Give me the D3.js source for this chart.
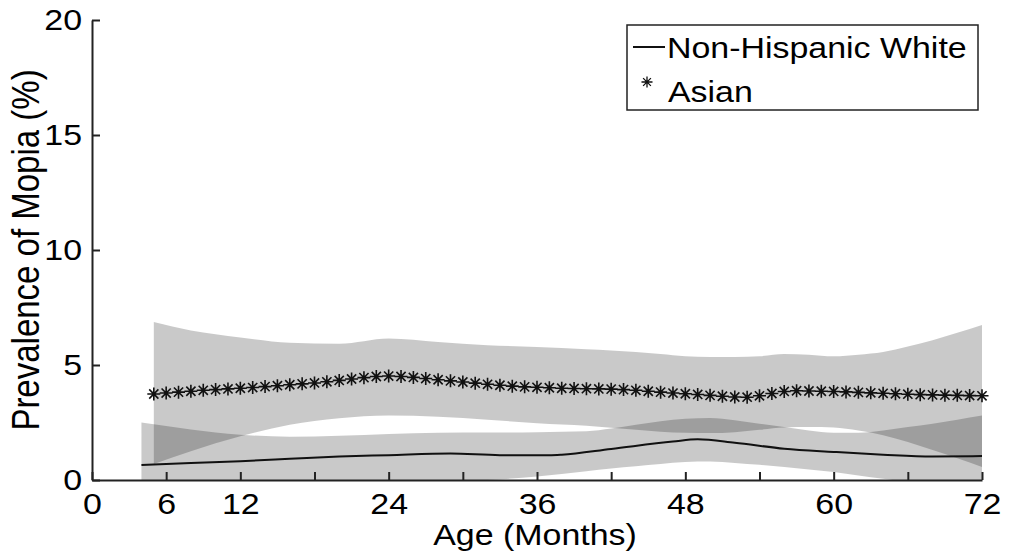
<!DOCTYPE html>
<html>
<head>
<meta charset="utf-8">
<script src="https://cdn.jsdelivr.net/npm/d3@7"></script>
<style>
  html, body { margin: 0; padding: 0; background: #fff; }
  svg text { font-family: "Liberation Sans", Arial, sans-serif; fill: #000; }
</style>
</head>
<body>
<div id="chart"></div>
<script>
//Datos
const xTicks = [0, 6, 12, 18, 24, 30, 36, 42, 48, 54, 60, 66, 72];
const xLabels = [0, 6, 12, 24, 36, 48, 60, 72];
const yTicks = [0, 5, 10, 15, 20];

//Asiáticos: un asterisco por mes
const asianAge = [5, 6, 7, 8, 9, 10, 11, 12, 13, 14, 15, 16, 17, 18, 19, 20, 21, 22, 23, 24,
    25, 26, 27, 28, 29, 30, 31, 32, 33, 34, 35, 36, 37, 38, 39, 40, 41, 42, 43, 44, 45, 46, 47, 48,
    49, 50, 51, 52, 53, 54, 55, 56, 57, 58, 59, 60, 61, 62, 63, 64, 65, 66, 67, 68, 69, 70, 71, 72];
const asianValue = [3.74, 3.78, 3.82, 3.86, 3.9, 3.93, 3.96, 3.99, 4.02, 4.06, 4.1, 4.14, 4.18, 4.22, 4.27, 4.33, 4.39, 4.45, 4.5, 4.52,
    4.5, 4.46, 4.41, 4.36, 4.31, 4.26, 4.21, 4.16, 4.12, 4.08, 4.05, 4.03, 4.01, 3.99, 3.98, 3.97, 3.96, 3.95, 3.93, 3.9, 3.86, 3.82, 3.78, 3.75,
    3.72, 3.68, 3.64, 3.61, 3.6, 3.66, 3.76, 3.85, 3.88, 3.87, 3.86, 3.85, 3.83, 3.81, 3.79, 3.77, 3.75, 3.73, 3.71, 3.7, 3.69, 3.68, 3.67, 3.66];

//Bandas de confianza
const bandAge = [8, 12, 16, 20, 24, 28, 32, 36, 40, 42, 44, 46, 48, 50, 52, 54, 56, 58, 60, 62, 64, 66, 68, 70, 72];
const asianUpper = [6.5, 6.2, 5.97, 5.92, 6.15, 6.0, 5.86, 5.78, 5.68, 5.63, 5.56, 5.48, 5.38, 5.35, 5.35, 5.38, 5.48, 5.45, 5.38, 5.45, 5.57, 5.8, 6.08, 6.4, 6.74];
const asianLower = [1.25, 1.9, 2.4, 2.68, 2.8, 2.75, 2.62, 2.47, 2.36, 2.27, 2.18, 2.1, 2.05, 2.04, 2.08, 2.18, 2.28, 2.3, 2.28, 2.15, 1.95, 1.65, 1.3, 0.95, 0.57];
const whiteUpper = [2.2, 1.97, 1.88, 1.92, 2.0, 2.05, 2.06, 2.08, 2.12, 2.24, 2.4, 2.55, 2.66, 2.7, 2.6, 2.45, 2.3, 2.15, 2.05, 2.05, 2.15, 2.3, 2.45, 2.62, 2.8];
const whiteLower = [-0.45, -0.4, -0.3, -0.2, -0.15, -0.05, 0.0, 0.15, 0.38, 0.5, 0.6, 0.7, 0.78, 0.8, 0.74, 0.66, 0.57, 0.46, 0.35, 0.2, 0.05, -0.08, -0.2, -0.35, -0.5];
//Inicio de cada banda
const asianStart = {age: 5, upper: 6.87, lower: 0.7};
const whiteStart = {age: 4, upper: 2.5, lower: -0.5};

//Blancos no hispanos: línea
const whiteAge = [4, 8, 12, 16, 20, 24, 29, 33, 37, 38, 42, 47, 49, 52, 56, 60, 64, 68, 72];
const whiteValue = [0.65, 0.74, 0.82, 0.92, 1.02, 1.08, 1.15, 1.08, 1.08, 1.1, 1.35, 1.67, 1.77, 1.62, 1.36, 1.22, 1.1, 1.02, 1.04];

const STRETCH = 1.17;

let margin = {top: 20, right: 28, bottom: 80, left: 92},
    width = 1010 - margin.left - margin.right,
    height = 560 - margin.top - margin.bottom;

let svg = d3.select('#chart')
    .append('svg')
        .attr('width', 1010)
        .attr('height', 560)
    .append('g')
        .attr('transform', 'translate(' + margin.left + ',' + margin.top + ')');

let x = d3.scaleLinear().domain([0, 72]).range([0, width]);
let y = d3.scaleLinear().domain([0, 20]).range([height, 0]);

svg.append('clipPath')
    .attr('id', 'clip')
    .append('rect')
        .attr('width', width)
        .attr('height', height);

//Bandas
function bandRows(start, upper, lower) {
    let rows = [{age: start.age, upper: start.upper, lower: start.lower}];
    bandAge.forEach(function(a, i) {
        rows.push({age: a, upper: upper[i], lower: lower[i]});
    });
    return rows;
}

let area = d3.area()
    .curve(d3.curveMonotoneX)
    .x(function(d) { return x(d.age); })
    .y0(function(d) { return y(d.lower); })
    .y1(function(d) { return y(d.upper); });

let bands = svg.append('g').attr('clip-path', 'url(#clip)');

bands.append('path')
    .datum(bandRows(whiteStart, whiteUpper, whiteLower))
    .attr('d', area)
    .attr('fill', '#000')
    .attr('fill-opacity', 0.21);

bands.append('path')
    .datum(bandRows(asianStart, asianUpper, asianLower))
    .attr('d', area)
    .attr('fill', '#000')
    .attr('fill-opacity', 0.21);

//Línea
let line = d3.line()
    .curve(d3.curveMonotoneX)
    .x(function(d, i) { return x(whiteAge[i]); })
    .y(function(d) { return y(d); });

svg.append('path')
    .datum(whiteValue)
    .attr('d', line)
    .attr('fill', 'none')
    .attr('stroke', '#111')
    .attr('stroke-width', 2);

//Asteriscos
function starPath(r) {
    let p = '';
    [0, 45, 90, 135].forEach(function(a) {
        let rad = a * Math.PI / 180,
            dx = Math.cos(rad) * r,
            dy = Math.sin(rad) * r;
        p += 'M' + (-dx) + ',' + (-dy) + 'L' + dx + ',' + dy;
    });
    return p;
}

svg.selectAll('.star')
    .data(asianValue)
    .enter()
    .append('path')
    .attr('class', 'star')
    .attr('transform', function(d, i) { return 'translate(' + x(asianAge[i]) + ',' + y(d) + ')'; })
    .attr('d', starPath(6.5))
    .attr('stroke', '#111')
    .attr('stroke-width', 1.6)
    .attr('fill', 'none');

//Ejes
let xAxis = svg.append('g')
    .attr('transform', 'translate(0,' + height + ')')
    .call(d3.axisBottom(x)
        .tickValues(xTicks)
        .tickSizeInner(-8)
        .tickSizeOuter(0)
        .tickPadding(13)
        .tickFormat(function(d) { return xLabels.indexOf(d) >= 0 ? d : ''; }));

let yAxis = svg.append('g')
    .call(d3.axisLeft(y)
        .tickValues(yTicks)
        .tickSizeInner(-8)
        .tickSizeOuter(0)
        .tickPadding(10));

[xAxis, yAxis].forEach(function(g) {
    g.select('.domain').attr('stroke', '#222').attr('stroke-width', 2);
    g.selectAll('.tick line').attr('stroke', '#222').attr('stroke-width', 2);
    g.selectAll('.tick text')
        .attr('font-size', 29)
        .attr('fill', '#000')
        .style('font-family', '"Liberation Sans", Arial, sans-serif');
});
xAxis.selectAll('.tick text').attr('transform', 'scale(' + STRETCH + ',1)');
yAxis.selectAll('.tick text')
    .attr('x', -10 / STRETCH)
    .attr('transform', 'scale(' + STRETCH + ',1)');

//Títulos de ejes
svg.append('text')
    .attr('transform', 'translate(' + (width / 2 - 2) + ',' + (height + 65) + ') scale(' + STRETCH + ',1)')
    .attr('text-anchor', 'middle')
    .attr('font-size', 29)
    .text('Age (Months)');

svg.append('text')
    .attr('transform', 'translate(' + (-53) + ',' + (height / 2) + ') rotate(-90) scale(1,' + STRETCH + ')')
    .attr('text-anchor', 'middle')
    .attr('font-size', 33)
    .text('Prevalence of Mopia (%)');

//Leyenda
let legend = svg.append('g')
    .attr('transform', 'translate(' + (x(72) - 355) + ',5)');

legend.append('rect')
    .attr('width', 351)
    .attr('height', 85)
    .attr('fill', '#fff')
    .attr('stroke', '#222')
    .attr('stroke-width', 1.5);

legend.append('line')
    .attr('x1', 6).attr('x2', 38)
    .attr('y1', 22).attr('y2', 22)
    .attr('stroke', '#111')
    .attr('stroke-width', 2);

legend.append('text')
    .attr('transform', 'translate(40,33) scale(' + STRETCH + ',1)')
    .attr('font-size', 29)
    .text('Non-Hispanic White');

legend.append('path')
    .attr('transform', 'translate(20,57)')
    .attr('d', starPath(5.5))
    .attr('stroke', '#111')
    .attr('stroke-width', 1.3)
    .attr('fill', 'none');

legend.append('text')
    .attr('transform', 'translate(41,77) scale(' + STRETCH + ',1)')
    .attr('font-size', 29)
    .text('Asian');
</script>
</body>
</html>
